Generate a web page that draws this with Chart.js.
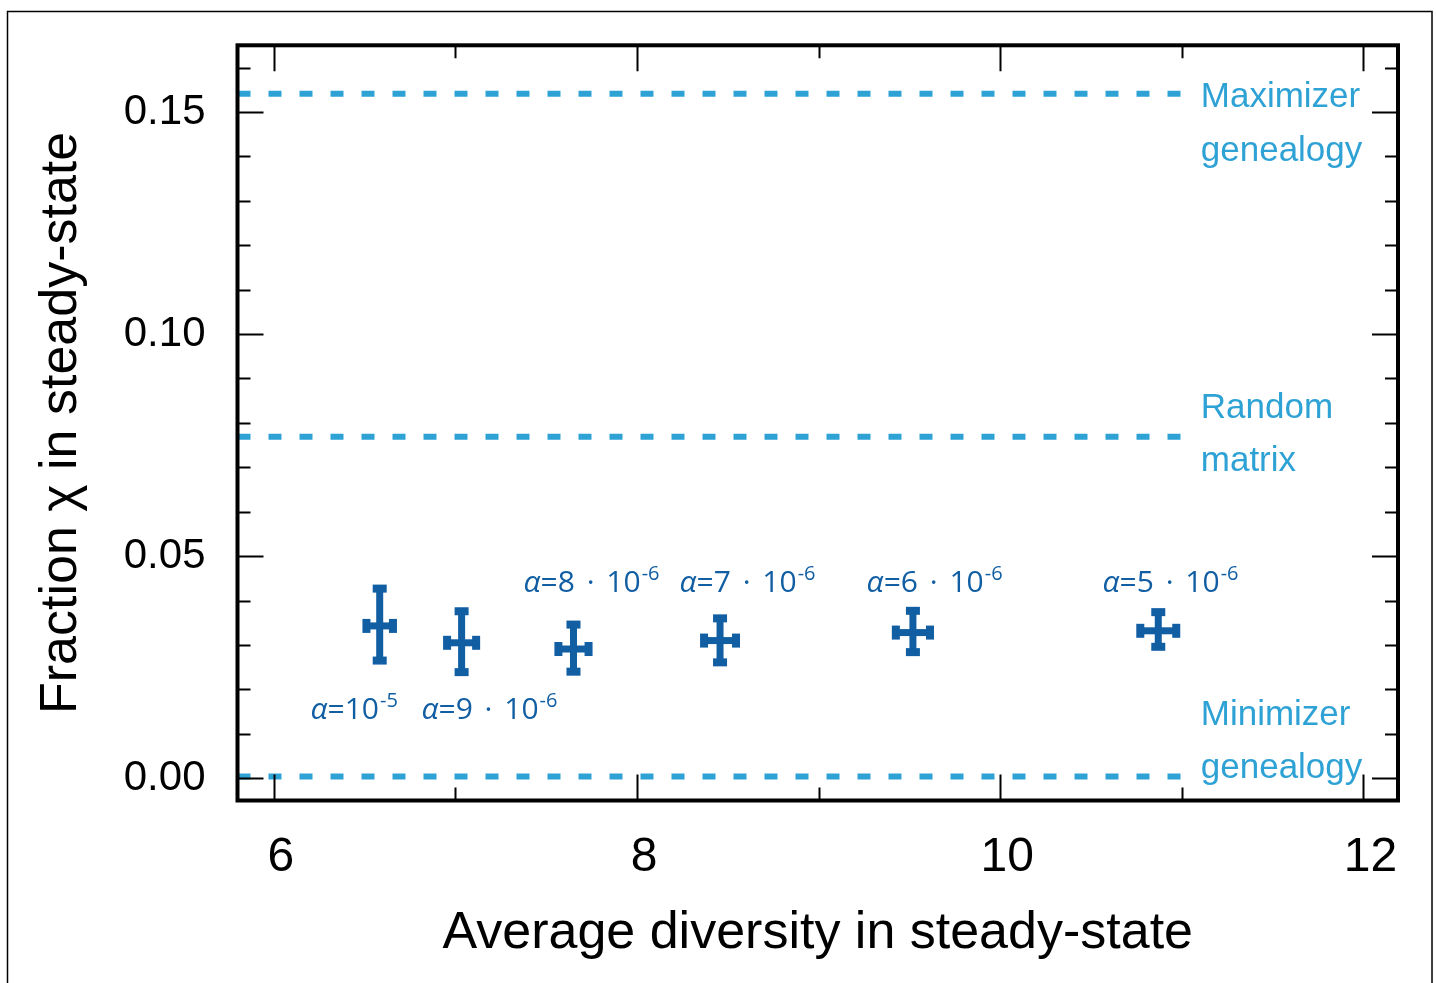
<!DOCTYPE html>
<html>
<head>
<meta charset="utf-8">
<script src="https://cdn.jsdelivr.net/npm/chart.js@4/dist/chart.umd.min.js"></script>
<style>
  html, body { margin: 0; padding: 0; background: #fff; }
  canvas { display: block; }
</style>
</head>
<body>
<canvas id="chart" width="1436" height="983"></canvas>
<script>
// Steady-state runs, one per alpha value
const diversity       = [6.583, 7.034, 7.650, 8.457, 9.519, 10.870];
const diversityErr    = [0.073, 0.080, 0.083, 0.088, 0.094, 0.099];
const fraction        = [0.0343, 0.0305, 0.0291, 0.0310, 0.0328, 0.0332];
const fractionErrUp   = [0.0084, 0.0071, 0.0055, 0.0050, 0.0049, 0.0042];
const fractionErrDown = [0.0078, 0.0066, 0.0051, 0.0049, 0.0044, 0.0036];

// Alpha annotations: mantissa, exponent and anchor (data units, left/baseline)
const alphaMantissa = ['', '9', '8', '7', '6', '5'];
const alphaExponent = ['-5', '-6', '-6', '-6', '-6', '-6'];
const alphaLabelX   = [6.202, 6.813, 7.375, 8.234, 9.264, 10.563];
const alphaLabelY   = [0.01335, 0.01335, 0.0419, 0.0419, 0.0419, 0.0419];

// Reference genealogies (dashed levels)
const refNames  = ['Maximizer genealogy', 'Random matrix', 'Minimizer genealogy'];
const refLevels = [0.1541, 0.0769, 0.0004];
const refStart  = 5.8;
const refEnd    = 11.0;
const refLabelX = 11.104;
const refLabelLines = [['Maximizer', 'genealogy'], ['Random', 'matrix'], ['Minimizer', 'genealogy']];
const refLabelY     = [[0.15113, 0.1389], [0.08118, 0.06925], [0.0120, 0.0000]];

// Axis ranges and ticks
const xMin = 5.8, xMax = 12.19;
const yMin = -0.005, yMax = 0.165;
const xTickValues = [6, 7, 8, 9, 10, 11, 12];
const xTickLabels = { 6: '6', 8: '8', 10: '10', 12: '12' };
const yTickValues = [0, 0.01, 0.02, 0.03, 0.04, 0.05, 0.06, 0.07, 0.08,
                     0.09, 0.10, 0.11, 0.12, 0.13, 0.14, 0.15, 0.16];
const yTickLabels = { 0: '0.00', 0.05: '0.05', 0.1: '0.10', 0.15: '0.15' };
const xTitle = 'Average diversity in steady-state';
const yTitle = 'Fraction \u03C7 in steady-state';

const DARK_BLUE = '#115ea3';
const LIGHT_BLUE = '#2ea2d5';
const SANS = "'Liberation Sans', Arial, Helvetica, sans-serif";
const ALPHA_FONT = "'Open Sans', 'Noto Sans', sans-serif";

const isLabeledX = v => xTickLabels[v] !== undefined;
const isLabeledY = v => yTickLabels[v] !== undefined;

// Outer thin border around the figure
const figureBorder = {
  id: 'figureBorder',
  beforeDraw(chart) {
    const { ctx } = chart;
    ctx.save();
    ctx.fillStyle = '#fff';
    ctx.fillRect(0, 0, chart.width, chart.height);
    ctx.strokeStyle = '#000';
    ctx.lineWidth = 1.5;
    ctx.strokeRect(7.5, 11.5, 1424.5, 1000);
    ctx.restore();
  }
};

// Error-bar crosses with square end caps
const errorCrosses = {
  id: 'errorCrosses',
  afterDatasetsDraw(chart) {
    const { ctx, scales: { x, y } } = chart;
    const bar = 7, capLen = 8, capW = 14;
    ctx.save();
    ctx.fillStyle = DARK_BLUE;
    diversity.forEach((dx, i) => {
      const cx = x.getPixelForValue(dx);
      const cy = y.getPixelForValue(fraction[i]);
      const xl = x.getPixelForValue(dx - diversityErr[i]);
      const xr = x.getPixelForValue(dx + diversityErr[i]);
      const yt = y.getPixelForValue(fraction[i] + fractionErrUp[i]);
      const yb = y.getPixelForValue(fraction[i] - fractionErrDown[i]);
      ctx.fillRect(xl, cy - bar / 2, xr - xl, bar);
      ctx.fillRect(cx - bar / 2, yt, bar, yb - yt);
      ctx.fillRect(xl - capLen / 2, cy - capW / 2, capLen, capW);
      ctx.fillRect(xr - capLen / 2, cy - capW / 2, capLen, capW);
      ctx.fillRect(cx - capW / 2, yt - capLen / 2, capW, capLen);
      ctx.fillRect(cx - capW / 2, yb - capLen / 2, capW, capLen);
    });
    ctx.restore();
  }
};

// Text annotations: alpha values and reference names
const annotations = {
  id: 'annotations',
  afterDatasetsDraw(chart) {
    const { ctx, scales: { x, y } } = chart;
    ctx.save();
    ctx.textBaseline = 'alphabetic';
    ctx.textAlign = 'left';
    ctx.fillStyle = DARK_BLUE;
    const put = (txt, px) => { ctx.fillText(txt, px, 0); return px + ctx.measureText(txt).width; };
    alphaMantissa.forEach((m, i) => {
      const py = y.getPixelForValue(alphaLabelY[i]);
      ctx.save();
      ctx.translate(0, py);
      let px = x.getPixelForValue(alphaLabelX[i]);
      ctx.font = 'italic 30px ' + ALPHA_FONT;
      px = put('\u03B1', px);
      ctx.font = '30px ' + ALPHA_FONT;
      if (m) {
        const gap = ctx.measureText(' ').width + 4;
        px = put('=' + m, px) + gap;
        px = put('\u00B7', px) + gap;
        px = put('10', px);
      } else {
        px = put('=10', px);
      }
      ctx.font = '20px ' + ALPHA_FONT;
      ctx.fillText(alphaExponent[i], px + 1, -12);
      ctx.restore();
    });

    ctx.fillStyle = LIGHT_BLUE;
    ctx.font = '35px ' + SANS;
    refLabelLines.forEach((lines, i) => {
      lines.forEach((t, j) => {
        ctx.fillText(t, x.getPixelForValue(refLabelX), y.getPixelForValue(refLabelY[i][j]));
      });
    });
    ctx.restore();
  }
};

// Inward ticks on all four sides plus the heavy axes frame
const frameAndTicks = {
  id: 'frameAndTicks',
  afterDraw(chart) {
    const { ctx, chartArea: a, scales: { x, y } } = chart;
    ctx.save();
    ctx.strokeStyle = '#000';
    ctx.lineWidth = 2;
    ctx.beginPath();
    x.ticks.forEach(t => {
      const px = Math.round(x.getPixelForValue(t.value)) + 0.5;
      const len = isLabeledX(t.value) ? 26 : 13;
      ctx.moveTo(px, a.top); ctx.lineTo(px, a.top + len);
      ctx.moveTo(px, a.bottom); ctx.lineTo(px, a.bottom - len);
    });
    y.ticks.forEach(t => {
      const py = Math.round(y.getPixelForValue(t.value)) + 0.5;
      const len = isLabeledY(t.value) ? 26 : 13;
      ctx.moveTo(a.left, py); ctx.lineTo(a.left + len, py);
      ctx.moveTo(a.right, py); ctx.lineTo(a.right - len, py);
    });
    ctx.stroke();
    ctx.lineWidth = 4;
    ctx.strokeRect(a.left, a.top, a.right - a.left, a.bottom - a.top);
    ctx.restore();
  }
};

const refDatasets = refLevels.map((lvl, i) => ({
  type: 'line',
  label: refNames[i],
  data: [{ x: refStart, y: lvl }, { x: refEnd, y: lvl }],
  borderColor: LIGHT_BLUE,
  borderWidth: 6,
  borderDash: [13, 18],
  borderCapStyle: 'butt',
  pointRadius: 0,
  fill: false,
  tension: 0
}));

new Chart(document.getElementById('chart'), {
  type: 'scatter',
  data: {
    datasets: [
      ...refDatasets,
      {
        type: 'scatter',
        label: 'Steady state',
        data: diversity.map((d, i) => ({ x: d, y: fraction[i] })),
        pointRadius: 0,
        backgroundColor: DARK_BLUE,
        borderColor: DARK_BLUE
      }
    ]
  },
  options: {
    responsive: false,
    animation: false,
    devicePixelRatio: 1,
    layout: { padding: { left: 0, top: 45.3, right: 38, bottom: 0 } },
    plugins: { legend: { display: false }, tooltip: { enabled: false } },
    scales: {
      x: {
        type: 'linear',
        min: xMin, max: xMax,
        grid: { display: false, drawTicks: false },
        border: { display: false },
        afterBuildTicks(scale) { scale.ticks = xTickValues.map(v => ({ value: v })); },
        afterFit(scale) {
          scale.height = 182.5;
          scale.paddingLeft = 0;
          scale.paddingRight = 0;
        },
        ticks: {
          autoSkip: false,
          maxRotation: 0,
          padding: 28,
          labelOffset: 7,
          color: '#000',
          font: { family: SANS, size: 48 },
          callback: v => xTickLabels[v] || ''
        },
        title: {
          display: true,
          text: xTitle,
          color: '#000',
          font: { family: SANS, size: 52 },
          padding: { top: 0, bottom: 18 }
        }
      },
      y: {
        type: 'linear',
        min: yMin, max: yMax,
        grid: { display: false, drawTicks: false },
        border: { display: false },
        afterBuildTicks(scale) { scale.ticks = yTickValues.map(v => ({ value: v })); },
        afterFit(scale) {
          scale.width = 237.5;
          scale.paddingTop = 0;
          scale.paddingBottom = 0;
        },
        ticks: {
          autoSkip: false,
          padding: 32,
          color: '#000',
          font: { family: SANS, size: 42 },
          callback: v => yTickLabels[v] || ''
        },
        title: {
          display: true,
          text: yTitle,
          color: '#000',
          font: { family: SANS, size: 52 },
          padding: { top: 30, bottom: 0 }
        }
      }
    }
  },
  plugins: [figureBorder, errorCrosses, annotations, frameAndTicks]
});
</script>
</body>
</html>
